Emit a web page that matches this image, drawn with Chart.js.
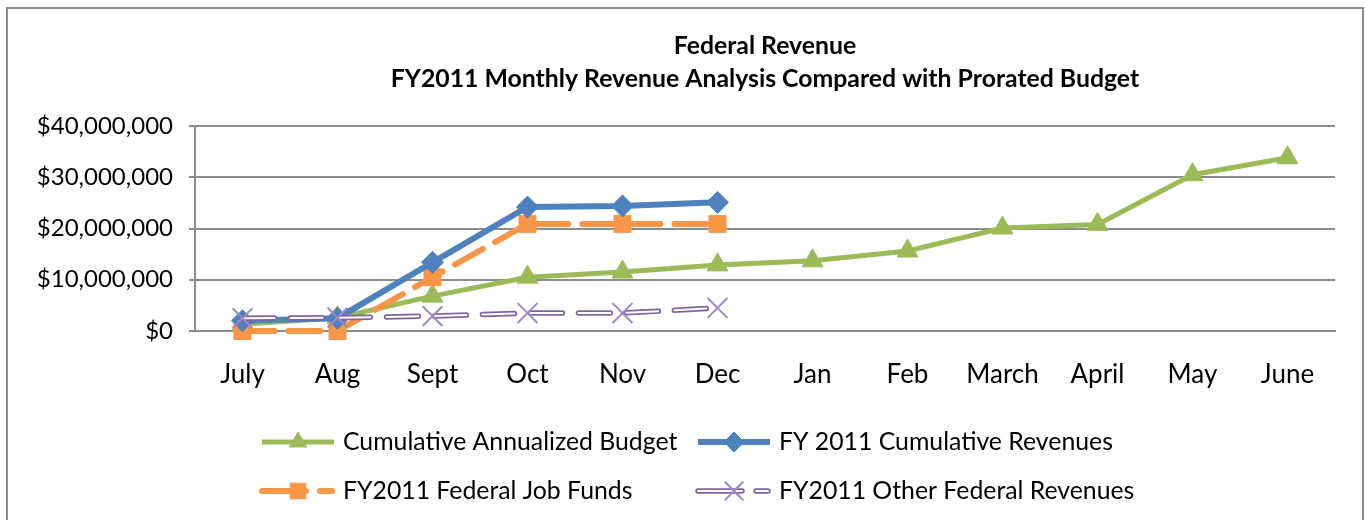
<!DOCTYPE html>
<html><head><meta charset="utf-8">
<script src="https://cdn.jsdelivr.net/npm/chart.js@4.4.1/dist/chart.umd.min.js"></script>
<style>html,body{margin:0;padding:0;background:#fff;} #wrap{width:1365px;height:520px;position:relative;}</style>
</head><body><div id="wrap"><canvas id="c" width="1365" height="520"></canvas></div>
<script>
const months = ['July','Aug','Sept','Oct','Nov','Dec','Jan','Feb','March','April','May','June'];
const budget = [1300000, 2600000, 6800000, 10500000, 11500000, 12900000, 13700000, 15600000, 20100000, 20800000, 30500000, 33800000];
const cumRevenue = [2000000, 2500000, 13400000, 24200000, 24400000, 25100000];
const jobFunds = [0, 0, 10500000, 20900000, 20900000, 20900000];
const otherRevenue = [2500000, 2600000, 2900000, 3500000, 3500000, 4500000];
const yTicks = [0, 10000000, 20000000, 30000000, 40000000];
const titleLines = ['Federal Revenue', 'FY2011 Monthly Revenue Analysis Compared with Prorated Budget'];
const seriesNames = ['Cumulative Annualized Budget', 'FY 2011 Cumulative Revenues', 'FY2011 Federal Job Funds', 'FY2011 Other Federal Revenues'];

const FONT = 'Lato, "Open Sans", sans-serif';
const GRID = '#8c8c8c';
const GREEN = '#9BBB59', BLUE = '#4F81BD', ORANGE = '#F79646', PURPLE = '#8064A2', LPURPLE = '#9D89C3';

function marker(ctx, style, x, y, r, fill, stroke, lw) {
  ctx.save();
  ctx.beginPath();
  if (style === 'triangle') {
    ctx.moveTo(x, y - r); ctx.lineTo(x + 0.866 * r, y + 0.5 * r); ctx.lineTo(x - 0.866 * r, y + 0.5 * r); ctx.closePath();
  } else if (style === 'rectRot') {
    ctx.moveTo(x - r, y); ctx.lineTo(x, y - r); ctx.lineTo(x + r, y); ctx.lineTo(x, y + r); ctx.closePath();
  } else if (style === 'rect') {
    const s = r * Math.SQRT1_2; ctx.rect(x - s, y - s, 2 * s, 2 * s);
  } else if (style === 'crossRot') {
    const s = r * Math.SQRT1_2;
    ctx.moveTo(x - s, y - s); ctx.lineTo(x + s, y + s); ctx.moveTo(x + s, y - s); ctx.lineTo(x - s, y + s);
  }
  if (style !== 'crossRot') { ctx.fillStyle = fill; ctx.fill(); }
  ctx.strokeStyle = stroke; ctx.lineWidth = lw; ctx.stroke();
  ctx.restore();
}

const framePlugin = {
  id: 'frame',
  beforeDraw(chart) {
    const ctx = chart.ctx;
    ctx.save();
    ctx.fillStyle = '#fff'; ctx.fillRect(0, 0, chart.width, chart.height);
    ctx.strokeStyle = GRID; ctx.lineWidth = 2;
    ctx.strokeRect(7, 8, 1356, 600);
    ctx.restore();
  },
  afterDraw(chart) {
    const ctx = chart.ctx, ca = chart.chartArea;
    const cx = (ca.left + ca.right) / 2;
    ctx.save();
    ctx.fillStyle = '#000'; ctx.textAlign = 'center'; ctx.textBaseline = 'middle';
    ctx.font = 'bold 24.8px ' + FONT;
    ctx.fillText(titleLines[0], cx, 46);
    ctx.fillText(titleLines[1], cx, 79);
    // legend
    const items = [
      {ds: 0, x: 262, y: 442}, {ds: 1, x: 698, y: 442},
      {ds: 2, x: 262, y: 491}, {ds: 3, x: 698, y: 491}
    ];
    ctx.font = '24.8px ' + FONT; ctx.textAlign = 'left';
    items.forEach((it, i) => {
      const d = chart.data.datasets[it.ds];
      const x0 = it.x, x1 = it.x + 72, ym = it.y;
      ctx.save();
      ctx.lineCap = d.borderCapStyle || 'butt';
      ctx.beginPath(); ctx.moveTo(x0, ym); ctx.lineTo(x1, ym);
      ctx.strokeStyle = d.borderColor; ctx.lineWidth = d.borderWidth;
      ctx.setLineDash(d.legendDash || []);
      ctx.stroke();
      if (d.innerLine) {
        ctx.beginPath(); ctx.moveTo(x0, ym); ctx.lineTo(x1, ym);
        ctx.strokeStyle = '#fff'; ctx.lineWidth = 2; ctx.stroke();
      }
      ctx.restore();
      marker(ctx, d.mk, x0 + 36, ym, d.mkR, d.mkFill, d.mkStroke, d.mkLW);
      ctx.fillStyle = '#000';
      ctx.fillText(seriesNames[i], it.x + 81, ym);
    });
    ctx.restore();
  }
};

const ds = [
  { label: seriesNames[0], data: budget, borderColor: GREEN, borderWidth: 5, pointStyle: 'triangle', pointRadius: 12,
    pointBackgroundColor: GREEN, pointBorderColor: GREEN, pointBorderWidth: 1, order: 4,
    mk: 'triangle', mkR: 10, mkFill: GREEN, mkStroke: GREEN, mkLW: 1 },
  { label: seriesNames[1], data: cumRevenue, borderColor: BLUE, borderWidth: 6, pointStyle: 'rectRot', pointRadius: 11,
    pointBackgroundColor: BLUE, pointBorderColor: BLUE, pointBorderWidth: 1, order: 2,
    mk: 'rectRot', mkR: 10, mkFill: BLUE, mkStroke: BLUE, mkLW: 1 },
  { label: seriesNames[2], data: jobFunds, borderColor: ORANGE, borderWidth: 6, borderDash: [32, 14], borderCapStyle: 'round', pointStyle: 'rect', pointRadius: 12,
    pointBackgroundColor: ORANGE, pointBorderColor: ORANGE, pointBorderWidth: 1, order: 3,
    legendDash: [44, 14, 12, 100], mk: 'rect', mkR: 11, mkFill: ORANGE, mkStroke: ORANGE, mkLW: 1 },
  { label: seriesNames[3], data: otherRevenue, borderColor: PURPLE, borderWidth: 5.5, borderDash: [32, 16], borderCapStyle: 'round', pointRadius: 0, order: 1,
    legendDash: [44, 14, 12, 100], innerLine: true, mk: 'crossRot', mkR: 13, mkFill: LPURPLE, mkStroke: LPURPLE, mkLW: 2 },
  { label: '_inner', data: otherRevenue, borderColor: '#ffffff', borderWidth: 2, borderDash: [32, 16], borderCapStyle: 'round', pointStyle: 'crossRot', pointRadius: 14,
    pointBorderColor: LPURPLE, pointBackgroundColor: LPURPLE, pointBorderWidth: 2, order: 0 }
];
ds.forEach(d => { d.fill = false; d.tension = 0; d.clip = false; d.pointHoverRadius = d.pointRadius; });

new Chart(document.getElementById('c'), {
  type: 'line',
  data: { labels: months, datasets: ds },
  options: {
    responsive: false, animation: false, devicePixelRatio: 1,
    layout: { padding: { top: 126, right: 30, left: 0, bottom: 0 } },
    plugins: { legend: { display: false }, title: { display: false }, tooltip: { enabled: false } },
    scales: {
      x: {
        offset: true,
        grid: { display: false, drawTicks: false, offset: true },
        border: { display: true, color: GRID, width: 2 },
        ticks: { color: '#000', font: { family: FONT, size: 26 }, padding: 28, maxRotation: 0, autoSkip: false },
        afterFit(s) { s.height = 189; }
      },
      y: {
        min: 0, max: 40000000,
        afterBuildTicks(s) { s.ticks = yTicks.map(v => ({ value: v })); },
        grid: { color: GRID, lineWidth: 2, tickLength: 6, drawTicks: true },
        border: { display: true, color: GRID, width: 2 },
        ticks: { color: '#000', font: { family: FONT, size: 24 }, padding: 16,
          callback: v => '$' + Number(v).toLocaleString('en-US') },
        afterFit(s) { s.width = 195; }
      }
    }
  },
  plugins: [framePlugin]
});
</script>
</body></html>
